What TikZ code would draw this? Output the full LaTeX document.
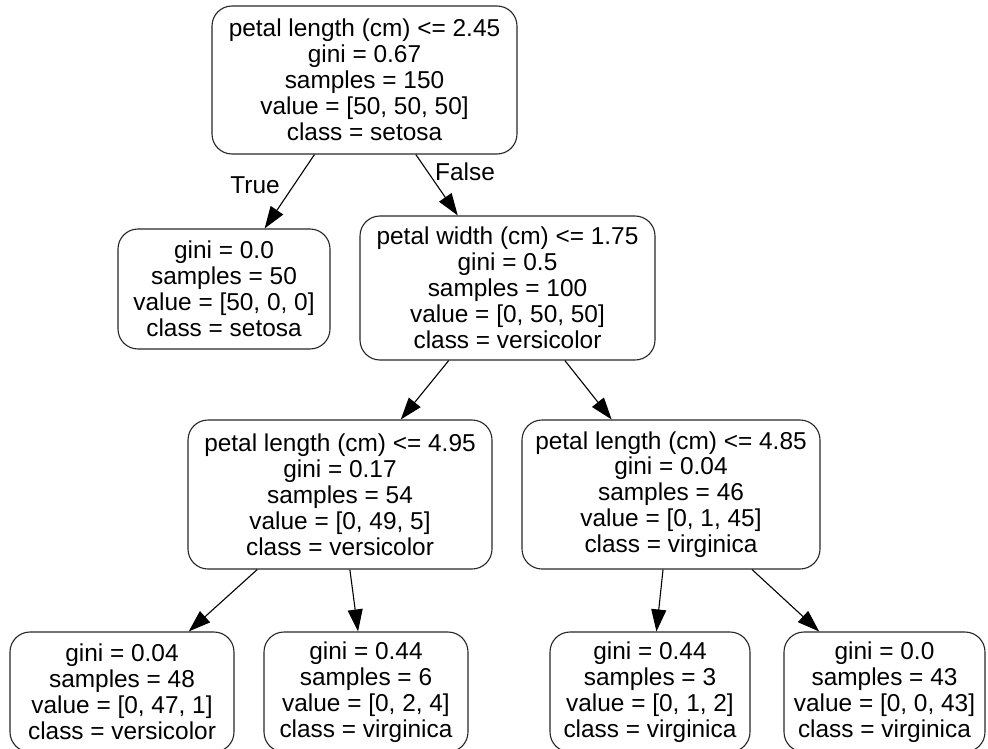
\documentclass[tikz,border=0pt]{standalone}
\usepackage{fontspec}
\setmainfont{Liberation Sans}
\usetikzlibrary{arrows.meta}
\begin{document}
\begin{tikzpicture}[x=1bp,y=-1bp,
  treenode/.style={draw=black!85, line width=1.1bp, rounded corners=20bp, align=center,
    inner sep=0pt, font={\fontsize{24.5}{26}\selectfont}},
  edge/.style={draw=black, line width=1.1bp, -{Triangle[length=22bp,width=15bp]}},
  edgelabel/.style={font={\fontsize{24.5}{26}\selectfont}, inner sep=0pt}]
\useasboundingbox (0,0) rectangle (988,749);
\begin{scope}
\clip (0,0) rectangle (988,749);
% decision nodes
\node[treenode, minimum width=305bp, minimum height=148bp] (root) at (364.5,80)
  {petal length (cm) <= 2.45\\gini = 0.67\\samples = 150\\value = [50, 50, 50]\\class = setosa};
\node[treenode, minimum width=212bp, minimum height=120bp] (setosa) at (224,289)
  {gini = 0.0\\samples = 50\\value = [50, 0, 0]\\class = setosa};
\node[treenode, minimum width=295bp, minimum height=144bp] (pw) at (507.5,288)
  {petal width (cm) <= 1.75\\gini = 0.5\\samples = 100\\value = [0, 50, 50]\\class = versicolor};
\node[treenode, minimum width=304bp, minimum height=149bp] (plA) at (340,494.5)
  {petal length (cm) <= 4.95\\gini = 0.17\\samples = 54\\value = [0, 49, 5]\\class = versicolor};
\node[treenode, minimum width=298bp, minimum height=149bp] (plB) at (671,494.5)
  {petal length (cm) <= 4.85\\gini = 0.04\\samples = 46\\value = [0, 1, 45]\\class = virginica};
% leaves
\node[treenode, minimum width=224bp, minimum height=120bp] (leafA) at (122,692)
  {gini = 0.04\\samples = 48\\value = [0, 47, 1]\\class = versicolor};
\node[treenode, minimum width=204bp, minimum height=120bp] (leafB) at (366,692)
  {gini = 0.44\\samples = 6\\value = [0, 2, 4]\\class = virginica};
\node[treenode, minimum width=200bp, minimum height=120bp] (leafC) at (650,692)
  {gini = 0.44\\samples = 3\\value = [0, 1, 2]\\class = virginica};
\node[treenode, minimum width=201bp, minimum height=120bp] (leafD) at (884.5,692)
  {gini = 0.0\\samples = 43\\value = [0, 0, 43]\\class = virginica};
% connectors
\draw[edge] (root) -- (setosa);
\draw[edge] (root) -- (pw);
\draw[edge] (pw) -- (plA);
\draw[edge] (pw) -- (plB);
\draw[edge] (plA) -- (leafA);
\draw[edge] (plA) -- (leafB);
\draw[edge] (plB) -- (leafC);
\draw[edge] (plB) -- (leafD);
% branch labels
\node[edgelabel] (ltrue) at (255,185) {True};
\node[edgelabel] (lfalse) at (465,172) {False};
\end{scope}
\end{tikzpicture}
\end{document}
